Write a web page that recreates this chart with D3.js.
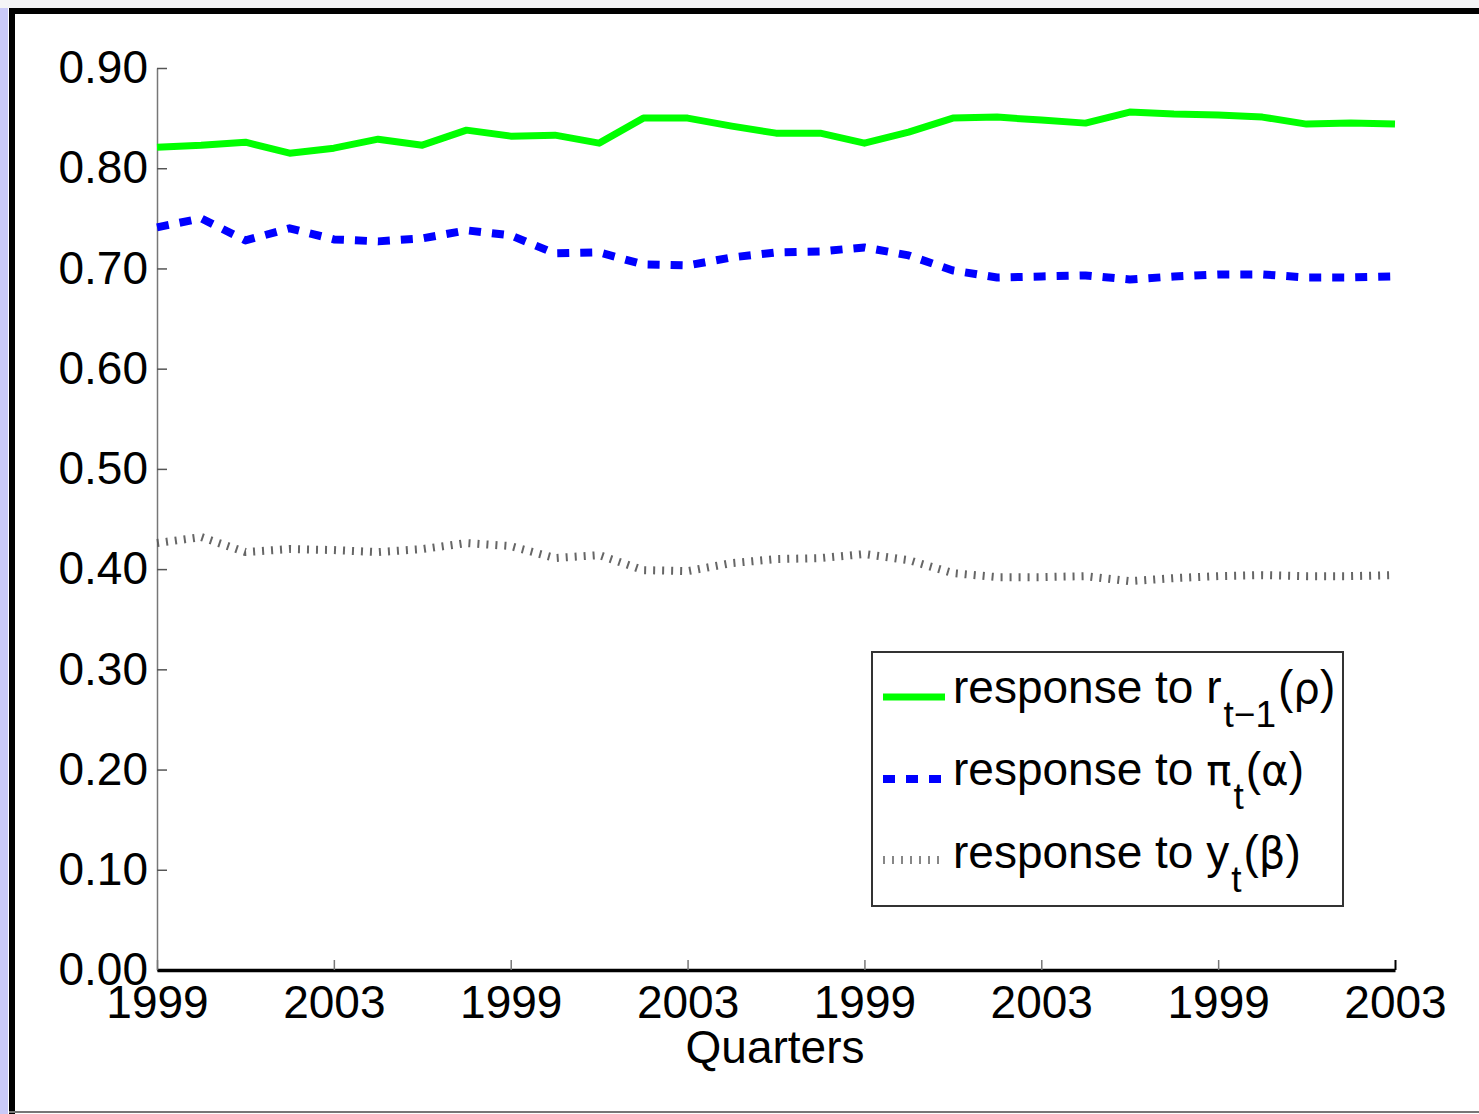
<!DOCTYPE html>
<html>
<head>
<meta charset="utf-8">
<script src="https://cdn.jsdelivr.net/npm/d3@7"></script>
<style>
  html, body { margin: 0; padding: 0; background: #ffffff; }
  svg { display: block; }
  text { font-family: "Liberation Sans", Arial, Helvetica, sans-serif; fill: #000; }
</style>
</head>
<body>
<svg id="chart" width="1479" height="1114"></svg>
<script>
// Quarterly observations (index 0..28)
const quarters = d3.range(29);

// Estimated policy-rule coefficients
const rhoValues = [0.821, 0.823, 0.826, 0.815, 0.820, 0.829, 0.823, 0.838, 0.832, 0.833,
                   0.825, 0.850, 0.850, 0.842, 0.835, 0.835, 0.825, 0.836, 0.850, 0.851,
                   0.848, 0.845, 0.856, 0.854, 0.853, 0.851, 0.844, 0.845, 0.844];
const alphaValues = [0.741, 0.750, 0.728, 0.740, 0.729, 0.727, 0.730, 0.738, 0.733, 0.715,
                     0.716, 0.704, 0.703, 0.711, 0.716, 0.717, 0.721, 0.713, 0.698, 0.691,
                     0.692, 0.693, 0.689, 0.692, 0.694, 0.694, 0.691, 0.691, 0.692];
const betaValues = [0.426, 0.432, 0.417, 0.420, 0.419, 0.417, 0.420, 0.426, 0.423, 0.411,
                    0.414, 0.399, 0.398, 0.406, 0.410, 0.411, 0.415, 0.409, 0.396, 0.392,
                    0.392, 0.393, 0.388, 0.391, 0.393, 0.394, 0.393, 0.393, 0.394];

// Axis ticks
const xTickIndex = [0, 4, 8, 12, 16, 20, 24, 28];
const xTickLabels = ["1999", "2003", "1999", "2003", "1999", "2003", "1999", "2003"];
const yTicks = [0, 0.1, 0.2, 0.3, 0.4, 0.5, 0.6, 0.7, 0.8, 0.9];

const series = [
  { values: rhoValues,   color: "#00ff00", width: 7, dash: null,    sym: "r",      sub: "t\u22121", greek: "\u03c1" },
  { values: alphaValues, color: "#0000ff", width: 8, dash: "12,11", sym: "\u03c0", sub: "t",        greek: "\u03b1", symGreek: true },
  { values: betaValues,  color: "#555555", width: 8, dash: "2,7",   sym: "y",      sub: "t",        greek: "\u03b2" }
];

const svg = d3.select("#chart");

// Slide frame around the figure
svg.append("rect").attr("x", 0).attr("y", 0).attr("width", 8).attr("height", 1114).attr("fill", "#cacaf8");
svg.append("rect").attr("x", 0).attr("y", 0).attr("width", 1479).attr("height", 8).attr("fill", "#f4f4f6");
svg.append("line").attr("x1", 12).attr("x2", 12).attr("y1", 8).attr("y2", 1114)
  .attr("stroke", "#000").attr("stroke-width", 6);
svg.append("line").attr("x1", 9).attr("x2", 1479).attr("y1", 11).attr("y2", 11)
  .attr("stroke", "#000").attr("stroke-width", 6);
svg.append("line").attr("x1", 9).attr("x2", 1479).attr("y1", 1112).attr("y2", 1112)
  .attr("stroke", "#777").attr("stroke-width", 2);

const x = d3.scaleLinear().domain([0, 28]).range([157, 1395]);
const y = d3.scaleLinear().domain([0, 0.9]).range([970, 68]);

// Y axis (ticks pointing inward)
const yAxis = svg.append("g")
  .attr("transform", `translate(${x(0)},0)`)
  .call(d3.axisLeft(y).tickValues(yTicks).tickFormat(d3.format(".2f"))
    .tickSizeInner(-10).tickSizeOuter(0).tickPadding(9));
yAxis.select(".domain").attr("stroke", "#777").attr("stroke-width", 1.5);
yAxis.selectAll(".tick line").attr("stroke", "#555").attr("stroke-width", 1.5);
yAxis.selectAll(".tick text").attr("font-size", 46).attr("fill", "#000")
  .attr("font-family", "Liberation Sans, Arial, sans-serif");
yAxis.attr("font-size", 46);

// X axis
const xAxis = svg.append("g")
  .attr("transform", `translate(0,${y(0)})`)
  .call(d3.axisBottom(x).tickValues(xTickIndex)
    .tickFormat((d, i) => xTickLabels[i])
    .tickSizeInner(-10).tickSizeOuter(0).tickPadding(15));
xAxis.select(".domain").attr("stroke", "#000").attr("stroke-width", 3.5);
xAxis.selectAll(".tick line").attr("stroke", "#777").attr("stroke-width", 1.5);
xAxis.selectAll(".tick:last-of-type line").attr("stroke", "#000").attr("stroke-width", 2);
xAxis.selectAll(".tick text").attr("font-size", 46).attr("fill", "#000")
  .attr("font-family", "Liberation Sans, Arial, sans-serif");
xAxis.attr("font-size", 46);

svg.append("text")
  .attr("x", 775).attr("y", 1063)
  .attr("text-anchor", "middle")
  .attr("font-size", 46)
  .text("Quarters");

// Coefficient paths
const line = d3.line().x((d, i) => x(quarters[i])).y(d => y(d));
series.forEach(s => {
  svg.append("path")
    .datum(s.values)
    .attr("fill", "none")
    .attr("stroke", s.color)
    .attr("stroke-width", s.width)
    .attr("stroke-linejoin", "round")
    .attr("stroke-dasharray", s.dash)
    .attr("opacity", s.dash === "2,7" ? 0.9 : 1)
    .attr("d", line);
});

// Legend
const legend = svg.append("g");
legend.append("rect")
  .attr("x", 872).attr("y", 652).attr("width", 471).attr("height", 254)
  .attr("fill", "#fff").attr("stroke", "#333").attr("stroke-width", 2);

const greekFont = "DejaVu Sans, sans-serif";
const rowY = [703, 785, 868];
series.forEach((s, i) => {
  const ly = rowY[i] - 6 - (i === 2 ? 2 : 0);
  legend.append("line")
    .attr("x1", 883).attr("x2", 945).attr("y1", ly).attr("y2", ly)
    .attr("stroke", s.color).attr("stroke-width", s.width)
    .attr("stroke-dasharray", s.dash)
    .attr("opacity", s.dash === "2,7" ? 0.7 : 1);
  const t = legend.append("text")
    .attr("x", 953).attr("y", rowY[i])
    .attr("font-size", 46);
  t.append("tspan").text("response to ");
  t.append("tspan").text(s.sym)
    .attr("font-family", s.symGreek ? greekFont : null)
    .attr("font-size", s.symGreek ? 42 : null);
  t.append("tspan").text(s.sub).attr("font-size", 37).attr("dy", 24).attr("dx", 2);
  t.append("tspan").text("(").attr("dy", -24).attr("dx", 2);
  t.append("tspan").text(s.greek).attr("font-family", greekFont).attr("font-size", 42);
  t.append("tspan").text(")");
});
</script>
</body>
</html>
